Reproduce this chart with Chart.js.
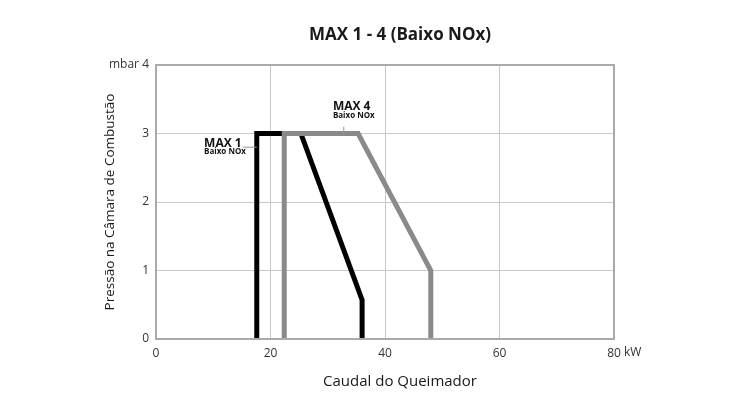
<!DOCTYPE html>
<html>
<head>
<meta charset="utf-8">
<script src="https://cdn.jsdelivr.net/npm/chart.js@4/dist/chart.umd.min.js"></script>
<style>
  html, body { margin: 0; padding: 0; background: #fff; }
  #wrap { width: 750px; height: 408px; }
</style>
</head>
<body>
<div id="wrap"><canvas id="chart" width="750" height="408"></canvas></div>
<script>
// Data (kW, mbar)
const max1Flow = [17.6, 17.6, 25.3, 36.0, 36.0];
const max1Pressure = [0, 3, 3, 0.57, 0];
const max4Flow = [22.4, 22.4, 35.3, 48.0, 48.0];
const max4Pressure = [0, 3, 3, 1, 0];

const xTicks = [0, 20, 40, 60, 80];
const yTicks = [0, 1, 2, 3, 4];

const seriesNames = ['MAX 1', 'MAX 4'];
const seriesSub = ['Baixo NOx', 'Baixo NOx'];
// label anchors in data units: [x, y of name, y of sub]
const labelAnchor = [[8.4, 2.86, 2.73], [30.9, 3.40, 3.26]];

const FONT = '"Open Sans", "Noto Sans", sans-serif';

function toPoints(xs, ys) {
    return xs.map((x, i) => ({ x: x, y: ys[i] }));
}

const extras = {
    id: 'extras',
    afterDraw(chart) {
        const ctx = chart.ctx;
        const area = chart.chartArea;
        const xs = chart.scales.x;
        const ys = chart.scales.y;
        ctx.save();

        // frame
        ctx.strokeStyle = '#aaaaaa';
        ctx.lineWidth = 2;
        ctx.strokeRect(area.left, area.top, area.right - area.left, area.bottom - area.top);

        // title
        ctx.fillStyle = '#1a1a1a';
        ctx.textAlign = 'center';
        ctx.textBaseline = 'middle';
        ctx.font = 'bold 17px ' + FONT;
        ctx.fillText('MAX 1 - 4 (Baixo NOx)', 400, 35);

        // axis titles
        ctx.font = '15px ' + FONT;
        ctx.fillText('Caudal do Queimador', 400, 382);
        ctx.save();
        ctx.translate(110, (area.top + area.bottom) / 2);
        ctx.rotate(-Math.PI / 2);
        ctx.font = '13.5px ' + FONT;
        ctx.fillText('Pressão na Câmara de Combustão', 0, 0);
        ctx.restore();

        // unit after last x tick
        ctx.font = '12px ' + FONT;
        ctx.fillStyle = '#333';
        ctx.textAlign = 'left';
        ctx.fillText('kW', xs.getPixelForValue(80) + 10, area.bottom + 14);

        // series labels
        ctx.fillStyle = '#111';
        seriesNames.forEach((name, i) => {
            const a = labelAnchor[i];
            const px = xs.getPixelForValue(a[0]);
            ctx.font = 'bold 12px ' + FONT;
            ctx.fillText(name, px, ys.getPixelForValue(a[1]));
            ctx.font = 'bold 8px ' + FONT;
            ctx.fillText(seriesSub[i], px, ys.getPixelForValue(a[2]));
        });

        // leader lines
        ctx.strokeStyle = '#999';
        ctx.lineWidth = 1;
        ctx.beginPath();
        ctx.moveTo(xs.getPixelForValue(15.2), ys.getPixelForValue(2.8));
        ctx.lineTo(xs.getPixelForValue(17.6), ys.getPixelForValue(2.8));
        ctx.moveTo(xs.getPixelForValue(32.8), ys.getPixelForValue(3.1));
        ctx.lineTo(xs.getPixelForValue(32.8), ys.getPixelForValue(3));
        ctx.stroke();

        ctx.restore();
    }
};

new Chart(document.getElementById('chart'), {
    type: 'scatter',
    data: {
        datasets: [
            {
                label: 'MAX 4',
                data: toPoints(max4Flow, max4Pressure),
                showLine: true,
                borderColor: '#8a8a8a',
                borderWidth: 5,
                pointRadius: 0,
                borderJoinStyle: 'miter',
                borderCapStyle: 'butt',
                clip: false,
                order: 0
            },
            {
                label: 'MAX 1',
                data: toPoints(max1Flow, max1Pressure),
                showLine: true,
                borderColor: '#000000',
                borderWidth: 5,
                pointRadius: 0,
                borderJoinStyle: 'miter',
                borderCapStyle: 'butt',
                clip: false,
                order: 1
            }
        ]
    },
    options: {
        responsive: false,
        animation: false,
        layout: { padding: { left: 0, right: 136, top: 65, bottom: 0 } },
        plugins: {
            legend: { display: false },
            tooltip: { enabled: false }
        },
        scales: {
            x: {
                type: 'linear',
                min: 0,
                max: 80,
                afterBuildTicks: (s) => { s.ticks = xTicks.map(v => ({ value: v })); },
                afterFit: (s) => { s.height = 69; },
                ticks: {
                    color: '#333',
                    font: { family: FONT, size: 12 },
                    padding: 7,
                    maxRotation: 0
                },
                grid: { color: '#c8c8c8', lineWidth: 1, drawTicks: false },
                border: { display: false }
            },
            y: {
                min: 0,
                max: 4,
                afterBuildTicks: (s) => { s.ticks = yTicks.map(v => ({ value: v })); },
                afterFit: (s) => { s.width = 156; },
                ticks: {
                    color: '#333',
                    font: { family: FONT, size: 12 },
                    padding: 7,
                    callback: (v) => v === 4 ? 'mbar 4' : v
                },
                grid: { color: '#c8c8c8', lineWidth: 1, drawTicks: false },
                border: { display: false }
            }
        }
    },
    plugins: [extras]
});
</script>
</body>
</html>
